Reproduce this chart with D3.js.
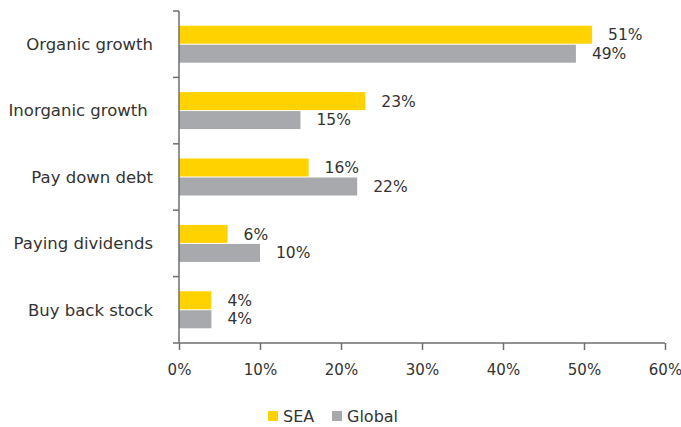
<!DOCTYPE html>
<html>
<head>
<meta charset="utf-8">
<script src="https://cdn.jsdelivr.net/npm/d3@7"></script>
<style>
  html, body { margin: 0; padding: 0; background: #fff; }
  svg { display: block; }
  text { font-family: "DejaVu Sans", sans-serif; fill: #333; }
</style>
</head>
<body>
<svg id="chart" width="681" height="427"></svg>
<script>
// Uses of cash: share of respondents, SEA vs Global
const categories = ["Organic growth", "Inorganic growth", "Pay down debt", "Paying dividends", "Buy back stock"];
const seaValues = [51, 23, 16, 6, 4];
const globalValues = [49, 15, 22, 10, 4];
const seriesNames = ["SEA", "Global"];
const seriesColors = ["#FFD200", "#A7A9AC"];
const xTicks = [0, 10, 20, 30, 40, 50, 60];

const svg = d3.select("#chart");
const plotLeft = 179, plotRight = 665, plotTop = 11, plotBottom = 343;

const x = d3.scaleLinear().domain([0, 60]).range([plotLeft, plotRight]);
const y = d3.scaleBand().domain(categories).range([plotTop, plotBottom]);
const groupH = 37;
const inner = d3.scaleBand().domain(seriesNames).range([0, groupH]);

const rows = categories.map((c, i) => ({ cat: c, vals: [seaValues[i], globalValues[i]] }));

const g = svg.append("g");
rows.forEach(r => {
  const y0 = y(r.cat) + (y.bandwidth() - groupH) / 2;
  r.vals.forEach((v, j) => {
    const by = y0 + inner(seriesNames[j]);
    g.append("rect")
      .attr("x", x(0))
      .attr("y", by + (j === 1 ? 0.5 : 0))
      .attr("width", x(v) - x(0))
      .attr("height", inner.bandwidth() - 0.5)
      .attr("fill", seriesColors[j]);
    g.append("text")
      .attr("x", x(v) + 16)
      .attr("y", by + inner.bandwidth() / 2)
      .attr("dy", "0.35em")
      .attr("font-size", 15.5)
      .text(v + "%");
  });
});

// Category axis: vertical line with separators between groups
const yAx = svg.append("g").attr("transform", `translate(${plotLeft},0)`);
yAx.append("line").attr("x1", 0).attr("x2", 0).attr("y1", plotTop).attr("y2", plotBottom)
  .attr("stroke", "#6d6e71").attr("stroke-width", 1.5);
const boundaries = categories.map(c => y(c)).concat([plotBottom]);
yAx.selectAll("line.sep").data(boundaries).enter().append("line")
  .attr("class", "sep")
  .attr("x1", -6).attr("x2", 0)
  .attr("y1", d => d).attr("y2", d => d)
  .attr("stroke", "#6d6e71").attr("stroke-width", 1.5);

svg.append("g").selectAll("text.cat").data(categories).enter().append("text")
  .attr("class", "cat")
  .attr("x", 153)
  .attr("y", d => y(d) + y.bandwidth() / 2)
  .attr("dy", "0.35em")
  .attr("text-anchor", "end")
  .attr("font-size", 16.5)
  .style("white-space", "pre")
  .text(d => d === "Inorganic growth" ? d + " " : d);

// Value axis
const xAxis = d3.axisBottom(x).tickValues(xTicks).tickFormat(d => d + "%").tickSize(7).tickSizeOuter(0).tickPadding(14);
const xAx = svg.append("g").attr("transform", `translate(0,${plotBottom})`).call(xAxis);
xAx.select(".domain").attr("stroke", "#6d6e71").attr("stroke-width", 1.5).attr("d", `M${plotLeft},0H${plotRight}`);
xAx.selectAll(".tick line").attr("stroke", "#6d6e71").attr("stroke-width", 1.5);
xAx.selectAll(".tick text").attr("font-size", 15).attr("font-family", "DejaVu Sans, sans-serif").attr("fill", "#333");

// Legend
const legend = svg.append("g");
const legendX = [268, 332];
seriesNames.forEach((s, j) => {
  legend.append("rect").attr("x", legendX[j]).attr("y", 411).attr("width", 10).attr("height", 10).attr("fill", seriesColors[j]);
  legend.append("text").attr("x", legendX[j] + 15).attr("y", 416).attr("dy", "0.35em")
    .attr("font-size", 16).text(s);
});
</script>
</body>
</html>
